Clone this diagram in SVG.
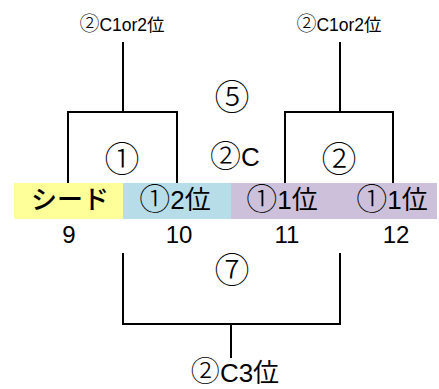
<svg xmlns="http://www.w3.org/2000/svg" width="439" height="389" viewBox="0 0 439 389">
<style>
text{font-family:"Liberation Sans","Noto Sans CJK JP",sans-serif;fill:#000;text-anchor:middle}
.c{font-family:"Noto Sans CJK JP",sans-serif;font-weight:300}
.sm{font-size:17.5px}
.num{font-size:24px}
.lg{font-size:26px}
.big{font-size:35px}
.ln{fill:none;stroke:#000;stroke-width:2}
</style>
<rect x="0" y="0" width="439" height="389" fill="#fff"/>
<g id="connectors">
<path class="ln" d="M123,42V112M68,183V112H177V183"/>
<path class="ln" d="M340,42V112M285,183V112H393V183"/>
<path class="ln" d="M123,253V324H340V253M231,324V358"/>
</g>
<g id="seed"><rect x="14" y="183" width="109" height="36" fill="#FFFF99"/><text class="lg" x="70" y="209" style="font-family:'Noto Sans CJK JP',sans-serif;font-weight:500">シード</text><text class="num" x="69" y="243">9</text></g>
<g id="p10"><rect x="123" y="183" width="108" height="36" fill="#B7DDE8"/><text class="lg" x="175" y="209"><tspan class="c" font-size="31" dy="1">①</tspan><tspan dy="-1">2位</tspan></text><text class="num" x="179" y="243">10</text></g>
<g id="p11"><rect x="231" y="183" width="108" height="36" fill="#CCC0DA"/><text class="lg" x="282" y="209"><tspan class="c" font-size="31" dy="1">①</tspan><tspan dy="-1">1位</tspan></text><text class="num" x="287" y="243">11</text></g>
<g id="p12"><rect x="339" y="183" width="98" height="36" fill="#CCC0DA"/><text class="lg" x="392" y="209"><tspan class="c" font-size="31" dy="1">①</tspan><tspan dy="-1">1位</tspan></text><text class="num" x="396" y="243">12</text></g>
<g id="top1"><text class="sm" x="122" y="31"><tspan class="c" font-size="20">②</tspan>C1or2位</text></g>
<g id="top2"><text class="sm" x="339" y="31"><tspan class="c" font-size="20">②</tspan>C1or2位</text></g>
<g id="m5"><text class="big c" x="232" y="110">⑤</text></g>
<g id="m2c"><text class="lg" x="235" y="166"><tspan class="c" font-size="31" dy="1">②</tspan><tspan dy="-1">C</tspan></text></g>
<g id="m1"><text class="big c" x="122" y="172">①</text></g>
<g id="m2"><text class="big c" x="339" y="172">②</text></g>
<g id="m7"><text class="big c" x="232" y="283">⑦</text></g>
<g id="bottom"><text class="lg" x="235" y="382"><tspan class="c" font-size="29">②</tspan>C3位</text></g>
</svg>
